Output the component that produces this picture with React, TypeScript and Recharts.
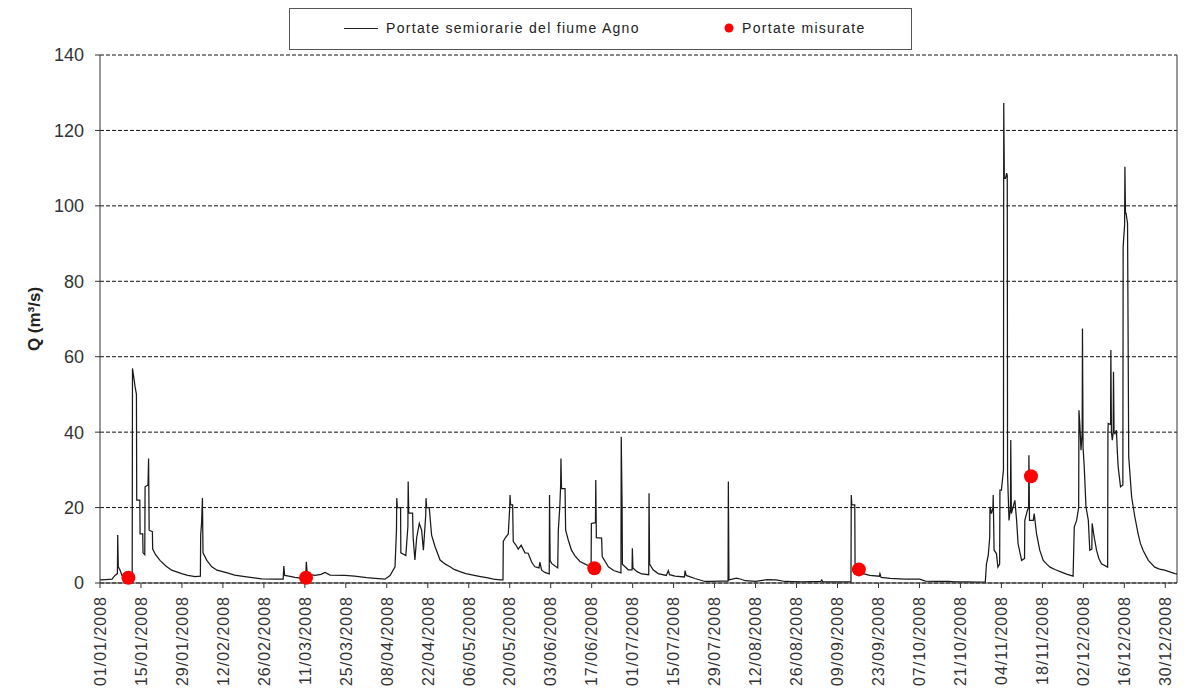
import React from "react";
import { ComposedChart, Line, Scatter, XAxis, YAxis, CartesianGrid, ReferenceLine } from "recharts";

// Half-hourly discharge of the Agno river, 2008, as [day of year (0 = 01/01), Q m3/s]
const janMar: [number, number][] = [
  [0, 0.8], [2, 0.9], [4.1, 1.0], [5.1, 2.0], [5.95, 2.5], [6.05, 12.7], [6.25, 4.3], [6.8, 3.5], [7.5, 2.0],
  [9.6, 1.5], [11.0, 1.5], [11.1, 56.9], [12.0, 52], [12.45, 50], [12.55, 22], [13.6, 22], [13.7, 13],
  [14.6, 13], [14.7, 8], [15.3, 7.5], [15.4, 25.5], [16.4, 26], [16.6, 33], [16.8, 14], [17.9, 13.6],
  [18.0, 9], [19, 7.5], [20.5, 6], [22.5, 4.5], [24.5, 3.4], [27.9, 2.5], [30, 2.0], [32.5, 1.7],
  [34.3, 1.8], [34.4, 12.7], [34.7, 15.8], [35.0, 22.5], [35.2, 8], [36.5, 6], [38.2, 4.3], [40, 3.4],
  [43.8, 2.6], [46, 2.1], [49.5, 1.7], [55.2, 1.1], [60, 1.0], [62.6, 1.0], [62.8, 4.5], [63.1, 2.0],
  [64.5, 1.8], [66.6, 1.5], [68.5, 1.3], [70.3, 1.6], [70.5, 5.6], [70.8, 2.5], [72, 2.2], [73.5, 2.0],
  [75.5, 2.3], [76.9, 2.8], [78.6, 2.1], [83.7, 2.0], [87, 1.8], [91.1, 1.4], [94, 1.2], [97.4, 1.0],
];

const aprMay: [number, number][] = [
  [99.1, 2.0], [100.8, 4.3], [101.3, 14], [101.4, 22.5], [101.6, 20], [102.7, 20], [102.8, 8], [104.5, 7.3],
  [105.2, 15], [105.3, 26.9], [105.5, 18.5], [106.8, 18.5], [107.0, 12], [107.6, 6.1], [108.2, 12],
  [109.1, 15.8], [109.9, 14], [110.5, 8.7], [111.3, 18], [111.4, 22.5], [111.6, 20], [112.5, 20],
  [113.3, 12.7], [114.5, 9.6], [116.2, 6.1], [118, 5], [119.6, 4.3], [121, 3.6], [123, 3.0], [125, 2.5],
  [127.5, 2.1], [130, 1.7], [132.1, 1.4], [134.5, 1.0], [136.7, 0.8], [137.7, 0.8],
];

const junJul: [number, number][] = [
  [137.8, 11], [138.5, 12], [139.5, 13], [140.0, 20], [140.1, 23.3], [140.3, 20.7], [141.0, 20.7],
  [141.2, 11], [142.2, 10], [142.9, 9], [143.9, 10], [145.2, 8], [146.3, 7.9], [147.5, 5.5], [148.6, 4.3],
  [150.0, 4.0], [150.3, 5.5], [150.9, 3.4], [152, 2.8], [153.5, 2.4], [153.6, 23.3], [153.8, 6],
  [154.3, 5.2], [155.5, 4.5], [156.4, 4], [156.6, 14], [157.1, 20], [157.4, 26], [157.5, 33], [157.7, 25],
  [158.9, 25], [159.1, 14], [160.0, 11.4], [161.1, 8.7], [162.3, 7.2], [164.0, 5.7], [166.3, 4.8],
  [167.8, 4.5], [167.9, 15.8], [169.3, 16], [169.4, 27.3], [169.6, 12], [171.4, 11.9], [171.6, 7],
  [173.7, 4.3], [175.5, 3.3], [178.0, 2.7], [178.1, 38.8], [178.4, 20], [178.5, 5], [180.5, 3.5],
  [181.8, 3.5], [181.9, 9.2], [182.1, 4], [183.5, 3.0], [185.1, 2.4], [187.5, 2.2], [187.6, 23.8],
  [187.8, 5], [189, 3.5], [190.7, 2.5], [193.5, 2.0], [194.2, 3.3], [194.6, 2.2], [196.5, 1.8],
  [199.7, 1.6], [199.9, 3.3], [200.3, 2.0], [203.3, 1.2], [206.7, 0.4],
];

const augOct: [number, number][] = [
  [208.4, 0.4], [212, 0.5], [214.6, 0.5], [214.7, 26.9], [214.9, 0.8], [216, 1.0], [217.5, 1.3], [219, 1.0],
  [220.5, 0.6], [224, 0.4], [228, 0.9], [231, 0.8], [234, 0.4], [240, 0.3], [246.3, 0.4], [246.6, 0.8],
  [247, 0.3], [252, 0.3], [256.6, 0.3], [256.7, 23.3], [256.9, 20.7], [257.9, 20.7], [258.0, 5],
  [259.5, 3.5], [260.8, 2.5], [263, 2.0], [266.3, 1.8], [266.5, 2.5], [266.9, 1.5], [270, 1.2], [275, 1.0],
  [280.1, 1.0], [282, 0.5], [286, 0.4], [290, 0.4], [292.1, 0.3], [296, 0.3], [300, 0.2], [302.5, 0.3],
];

const novDec: [number, number][] = [
  [302.9, 5.1], [303.5, 7.3], [304.0, 12], [304.1, 20.2], [304.6, 18.4], [305.1, 20], [305.2, 23.3],
  [305.5, 8.7], [306.3, 7.8], [306.8, 4.2], [307.4, 5], [307.5, 24.6], [308.0, 24.6], [308.7, 30],
  [308.8, 127.3], [309.0, 107.3], [309.4, 107.3], [309.8, 108.7], [310.0, 108], [310.1, 29], [310.6, 16.6],
  [311.1, 20], [311.2, 37.9], [311.4, 18.4], [312.6, 21.9], [313.2, 16.6], [313.7, 10.4], [314.9, 6],
  [315.9, 6.5], [316.0, 16.6], [316.9, 19.3], [317.3, 20], [317.4, 33.9], [317.6, 16.6], [318.9, 16.6],
  [319.2, 18.4], [320.0, 13.1], [321.1, 8.7], [322.3, 6], [323.5, 5], [324.6, 4.2], [326.5, 3.5],
  [328.5, 2.9], [330.5, 2.3], [332.5, 1.8], [332.9, 14.9], [333.7, 16.6], [334.4, 20], [334.5, 45.8],
  [334.8, 42], [335.2, 35.2], [335.6, 40], [335.7, 67.5], [335.9, 36], [336.3, 30.8], [336.9, 20.2],
  [337.7, 16.6], [338.2, 8.7], [338.9, 9], [339.0, 15.8], [339.7, 12.2], [340.5, 8.7], [341.3, 6.5],
  [342.2, 5.1], [344.3, 4.2], [344.4, 40], [344.5, 42.3], [345.3, 42], [345.4, 61.8], [345.6, 40],
  [345.9, 37.9], [346.2, 40], [346.3, 56], [346.5, 40], [346.8, 39.6], [347.3, 40.5], [347.6, 35],
  [347.9, 30.8], [348.7, 25.5], [349.5, 26], [349.6, 89.2], [350.1, 95], [350.2, 110.4], [350.4, 98],
  [350.6, 98], [351.1, 95.4], [351.5, 33.5], [352.5, 22.8], [353.6, 17.5], [354.7, 13.1], [355.5, 10.5],
  [356.4, 8.7], [358.2, 6], [360.4, 4.2], [362, 3.7], [363.8, 3.4], [366, 2.8], [367.3, 2.5], [368, 2.4],
];

// spot gaugings
const measured: [number, number][] = [
  [9.7, 1.4], [70.4, 1.4], [168.9, 3.9], [259.3, 3.6], [318.1, 28.3],
];

const tickDays = [0, 14, 28, 42, 56, 70, 84, 98, 112, 126, 140, 154, 168, 182, 196, 210, 224, 238, 252, 266, 280, 294, 308, 322, 336, 350, 364];
const tickLabels = [
  "01/01/2008", "15/01/2008", "29/01/2008", "12/02/2008", "26/02/2008", "11/03/2008", "25/03/2008",
  "08/04/2008", "22/04/2008", "06/05/2008", "20/05/2008", "03/06/2008", "17/06/2008", "01/07/2008",
  "15/07/2008", "29/07/2008", "12/08/2008", "26/08/2008", "09/09/2008", "23/09/2008", "07/10/2008",
  "21/10/2008", "04/11/2008", "18/11/2008", "02/12/2008", "16/12/2008", "30/12/2008",
];
const yTicks = [0, 20, 40, 60, 80, 100, 120, 140];

const flowData = [...janMar, ...aprMay, ...junJul, ...augOct, ...novDec].map(([day, q]) => ({ day, q }));
const measuredData = measured.map(([day, q]) => ({ day, q }));

const FONT = "'Liberation Sans', Arial, sans-serif";

function DateTick(props: any) {
  const { x, y, payload } = props;
  const label = tickLabels[tickDays.indexOf(payload.value)];
  const ty = y + 6;
  return (
    <text
      x={x}
      y={ty}
      transform={`rotate(-90, ${x}, ${ty})`}
      textAnchor="end"
      dy="0.36em"
      fontSize={16}
      letterSpacing={1}
      fill="#333"
      fontFamily={FONT}
    >
      {label}
    </text>
  );
}

function RedDot(props: any) {
  return <circle cx={props.cx} cy={props.cy} r={7} fill="#ff0000" />;
}

// legend box drawn inside the svg, above the plot frame
function FlowLegend() {
  return (
    <g fontFamily={FONT} fontSize={14} letterSpacing={1.3} fill="#222">
      <rect x={281.5} y={0.5} width={622} height={41} fill="#fff" stroke="#555" strokeWidth={1} />
      <line x1={336} y1={20.5} x2={370} y2={20.5} stroke="#222" strokeWidth={1.2} />
      <text x={378} y={25}>Portate semiorarie del fiume Agno</text>
      <circle cx={721} cy={20} r={4.5} fill="#ff0000" />
      <text x={734} y={25}>Portate misurate</text>
    </g>
  );
}

export default function App() {
  return (
    <div style={{ width: 1173, height: 680, fontFamily: FONT }}>
      <ComposedChart width={1173} height={680} margin={{ top: 47, right: 4, bottom: 5, left: 0 }}>
        <CartesianGrid horizontal vertical={false} stroke="#111" strokeDasharray="4 2" />
        <XAxis
          type="number"
          dataKey="day"
          domain={[0, 368]}
          ticks={tickDays}
          interval={0}
          height={100}
          tickSize={5}
          stroke="#333"
          tick={<DateTick />}
          allowDataOverflow
        />
        <YAxis
          type="number"
          domain={[0, 140]}
          ticks={yTicks}
          width={92}
          tickSize={5}
          tickMargin={11}
          stroke="#333"
          tick={{ fontSize: 18, fill: "#333", fontFamily: FONT }}
          label={() => (
            <text
              x={32}
              y={311}
              transform="rotate(-90, 32, 311)"
              textAnchor="middle"
              fontSize={17}
              fontWeight="bold"
              fill="#222"
              fontFamily={FONT}
            >
              Q (m³/s)
            </text>
          )}
        />
        <ReferenceLine x={368} stroke="#333" strokeWidth={1} />
        <Line
          data={flowData}
          dataKey="q"
          type="linear"
          stroke="#1a1a1a"
          strokeWidth={1.25}
          dot={false}
          activeDot={false}
          isAnimationActive={false}
        />
        <Scatter data={measuredData} dataKey="q" shape={<RedDot />} isAnimationActive={false} />
        <ReferenceLine y={140} stroke="none" label={() => <FlowLegend />} />
      </ComposedChart>
    </div>
  );
}
